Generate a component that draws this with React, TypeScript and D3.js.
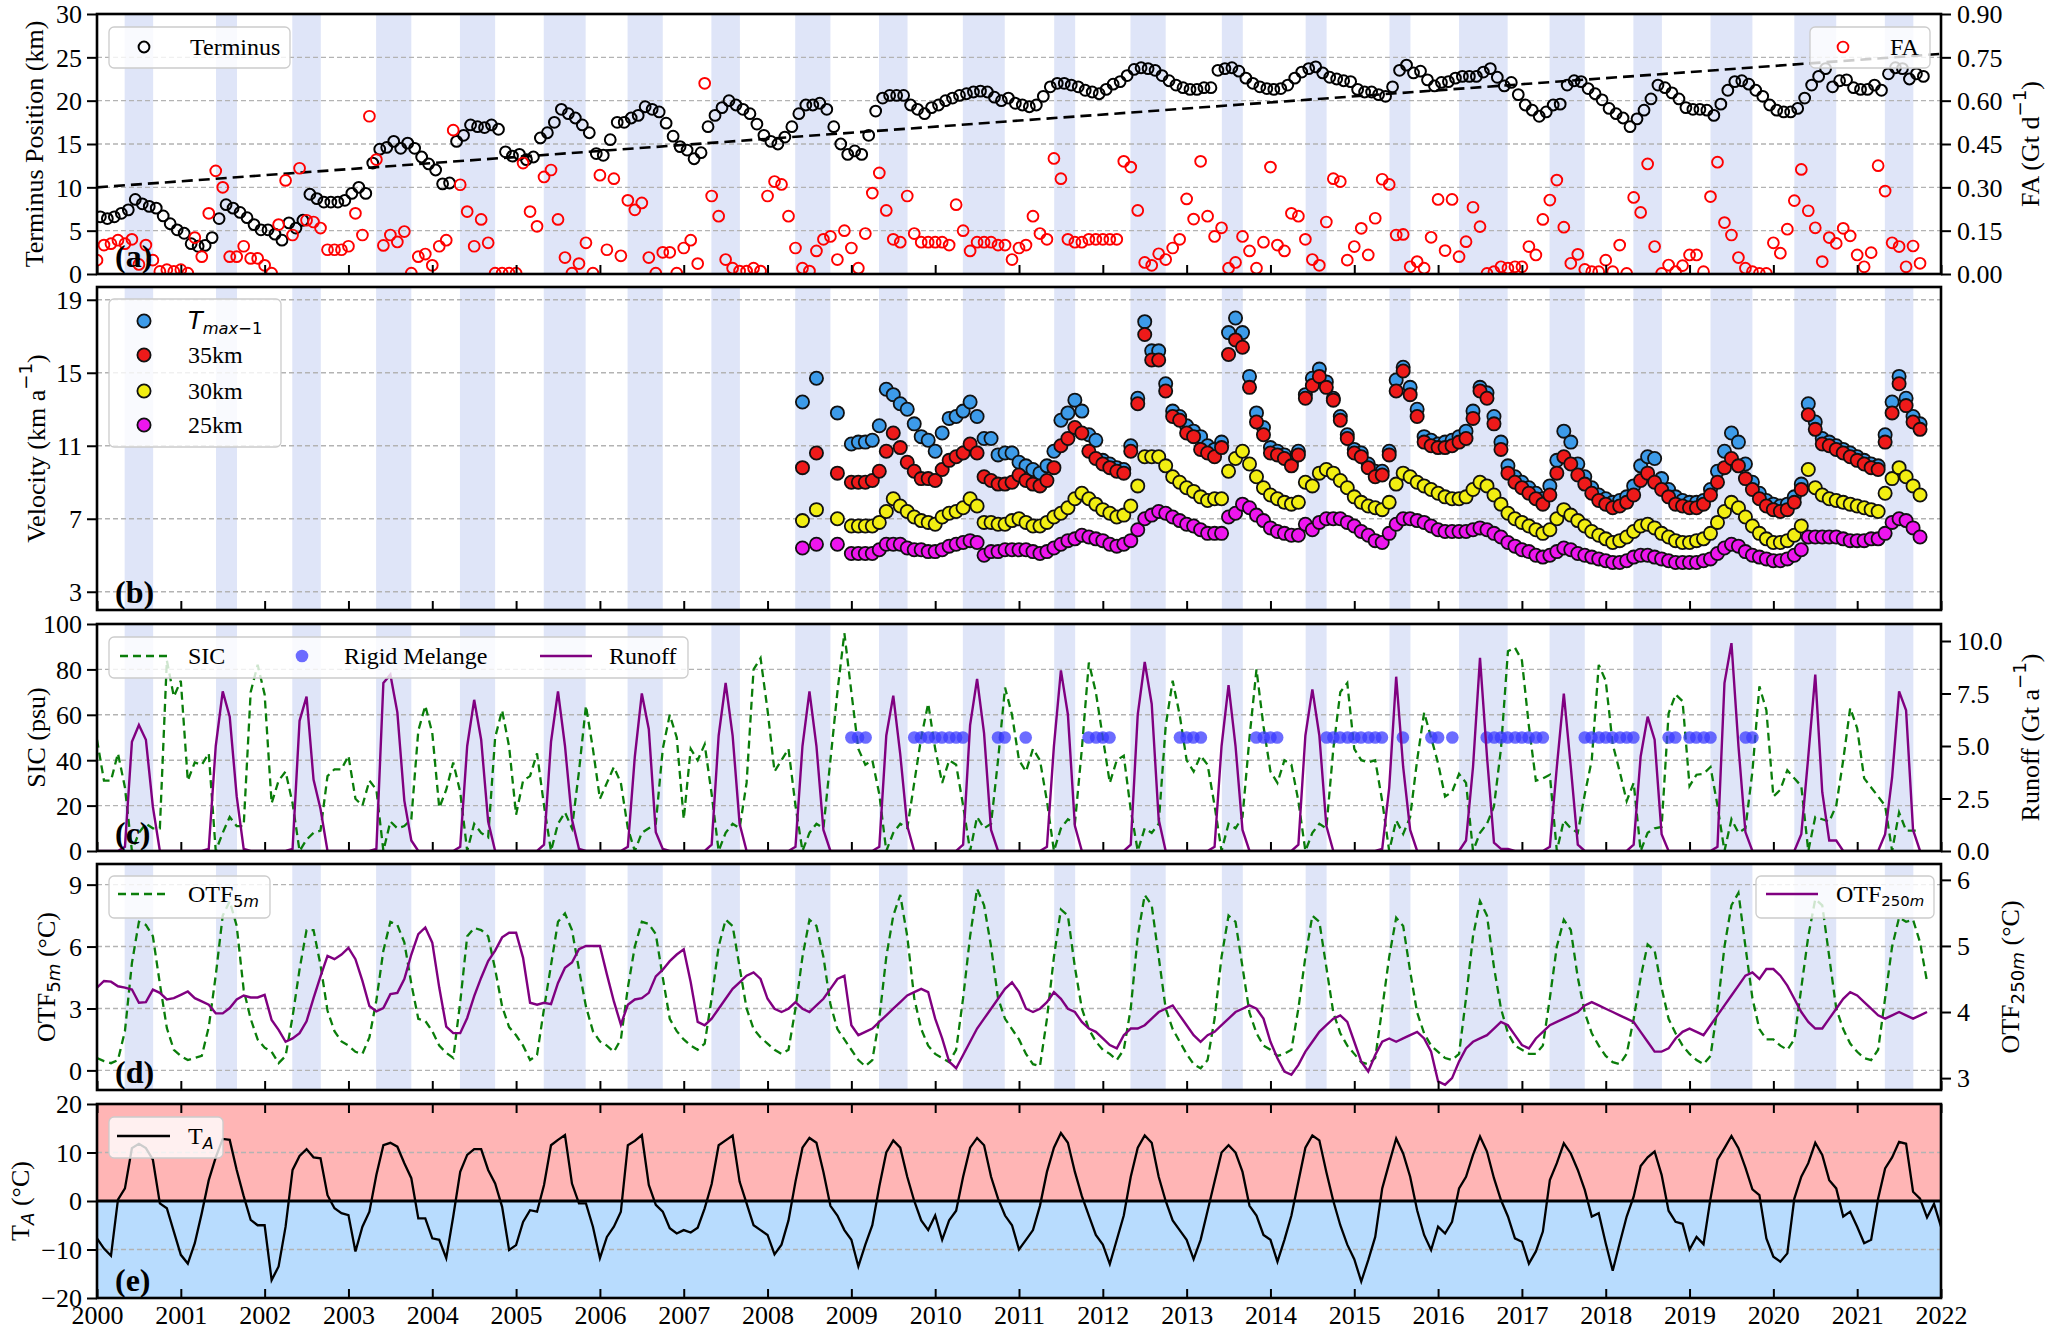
import React, { useEffect, useRef } from "react";
import * as d3 from "d3";

// ---------------- DATA ----------------
const yearTicks = [2000,2001,2002,2003,2004,2005,2006,2007,2008,2009,2010,2011,2012,2013,2014,2015,2016,2017,2018,2019,2020,2021,2022];

const summerBands: [number, number][] = [[2000.33,2000.67],[2001.42,2001.67],[2002.33,2002.67],[2003.33,2003.75],[2004.33,2004.75],[2005.33,2005.83],[2006.33,2006.75],[2007.33,2007.67],[2008.33,2008.75],[2009.33,2009.67],[2010.33,2010.83],[2011.42,2011.67],[2012.33,2012.75],[2013.42,2013.67],[2014.42,2014.67],[2015.42,2015.67],[2016.25,2016.83],[2017.33,2017.75],[2018.33,2018.67],[2019.25,2019.75],[2020.25,2020.75],[2021.33,2021.67]];

// (a) Terminus position (km), monthly from Jan 2000
const terminusKm = [
6.6,6.4,6.6,7.0,7.4,8.6,8.1,7.8,7.6,6.7,5.8,5.1,
4.7,3.5,3.2,3.3,4.2,6.4,8.0,7.6,7.1,6.5,5.7,5.1,
5.1,4.6,3.9,5.9,5.3,6.2,9.2,8.7,8.3,8.3,8.3,8.5,
9.3,10.0,9.3,12.8,14.4,14.6,15.3,14.5,15.1,14.5,13.5,12.7,
12.0,10.4,10.5,15.3,16.0,17.2,17.0,16.9,17.2,16.7,14.1,13.6,
13.8,13.2,13.5,15.7,16.3,17.5,19.0,18.5,18.0,17.2,16.3,13.9,
13.7,15.5,17.5,17.5,18.0,18.3,19.3,19.0,18.7,17.4,15.9,14.7,
14.3,13.3,14.0,17.0,18.3,19.2,20.0,19.5,19.0,18.5,17.3,16.0,
15.3,15.0,15.8,17.0,18.5,19.5,19.5,19.7,19.0,17.0,15.0,13.8,
14.2,13.8,16.0,18.8,20.3,20.6,20.6,20.6,19.5,19.0,18.5,19.2,
19.5,20.0,20.3,20.6,20.8,21.0,21.1,21.0,20.4,20.0,20.3,19.7,
19.5,19.3,19.5,20.5,21.6,22.0,22.0,21.8,21.6,21.2,21.0,20.8,
21.3,21.9,22.2,22.9,23.6,23.8,23.7,23.5,22.9,22.3,21.8,21.5,
21.3,21.3,21.5,21.5,23.5,23.7,23.8,23.4,22.6,22.0,21.6,21.4,
21.3,21.4,21.8,22.6,23.3,23.7,23.9,23.2,22.7,22.5,22.3,22.2,
21.3,21.0,21.0,20.7,20.5,21.6,23.5,24.1,23.2,23.4,22.4,21.7,
22.1,22.2,22.6,22.8,22.8,22.8,23.3,23.7,22.7,21.7,22.1,20.7,
19.5,18.9,18.2,18.7,19.5,19.6,21.8,22.3,22.2,21.4,20.8,20.1,
19.1,18.5,18.0,17.0,17.9,18.9,20.2,21.8,21.5,20.9,20.2,19.2,
19.0,19.0,18.9,18.3,19.6,21.2,22.2,22.3,21.9,21.2,20.5,19.5,
18.9,18.7,18.7,19.1,20.3,21.8,22.8,23.7,21.6,22.3,22.4,21.5,
21.3,21.3,21.8,21.2,23.1,23.8,23.7,22.5,23.1,22.8];
const terminusTrend = [10.0, 25.4]; // km at 2000 and 2022

// (a) Frontal ablation FA (Gt d-1), monthly from Jan 2000
const faGt = [
0.048,0.10,0.105,0.117,0.105,0.12,0.033,0.10,0.048,0.009,0.015,0.009,
0.015,0.003,0.126,0.06,0.21,0.357,0.30,0.06,0.06,0.096,0.054,0.054,
0.03,0.003,0.171,0.324,0.135,0.366,0.186,0.18,0.159,0.084,0.084,0.084,
0.096,0.21,0.135,0.546,0.396,0.099,0.135,0.111,0.147,0.003,0.06,0.069,
0.03,0.096,0.117,0.498,0.309,0.216,0.096,0.189,0.108,0.003,0.003,0.003,
0.003,0.384,0.216,0.165,0.336,0.36,0.189,0.057,0.003,0.036,0.108,0.003,
0.342,0.084,0.33,0.063,0.255,0.222,0.246,0.057,0.003,0.075,0.075,0.003,
0.09,0.117,0.036,0.66,0.27,0.2,0.05,0.02,0.01,0.01,0.02,0.01,
0.27,0.32,0.31,0.2,0.09,0.02,0.01,0.08,0.12,0.13,0.05,0.15,
0.09,0.02,0.14,0.28,0.35,0.22,0.12,0.11,0.27,0.14,0.11,0.11,
0.11,0.11,0.1,0.24,0.15,0.08,0.11,0.11,0.11,0.1,0.1,0.05,
0.09,0.1,0.2,0.14,0.12,0.4,0.33,0.12,0.11,0.11,0.12,0.12,
0.12,0.12,0.12,0.39,0.37,0.22,0.04,0.03,0.07,0.05,0.09,0.12,
0.26,0.19,0.39,0.2,0.13,0.16,0.02,0.04,0.13,0.08,0.02,0.11,
0.37,0.1,0.08,0.21,0.2,0.12,0.05,0.03,0.18,0.33,0.32,0.048,
0.095,0.158,0.066,0.193,0.328,0.31,0.135,0.137,0.025,0.043,0.02,0.127,
0.258,0.081,0.258,0.06,0.112,0.231,0.164,0.002,0.008,0.025,0.02,0.025,
0.025,0.095,0.066,0.189,0.256,0.325,0.162,0.037,0.068,0.016,0.008,0.008,
0.048,0.008,0.10,0.002,0.265,0.213,0.381,0.095,0.002,0.031,0.008,0.029,
0.066,0.066,0.008,0.268,0.387,0.178,0.135,0.057,0.02,0.008,0.002,0.002,
0.108,0.072,0.155,0.254,0.362,0.219,0.16,0.043,0.126,0.106,0.158,0.132,
0.066,0.025,0.074,0.375,0.287,0.108,0.095,0.025,0.097,0.037];

// (b) Velocity (km a-1), monthly from May 2008 (null = no data)
const velTmax = [
null,13.4,null,14.7,null,null,12.8,null,
11.1,11.2,11.2,11.3,12.1,14.1,13.8,13.3,13.0,12.2,11.5,11.3,
10.7,11.7,12.5,12.6,12.9,13.4,12.6,11.4,11.4,10.5,10.6,10.6,
10.1,9.9,9.7,9.5,9.9,10.7,12.4,12.8,13.5,12.9,11.6,11.3,
10.2,10.0,9.8,9.7,11.0,13.6,17.8,16.2,16.2,14.4,12.9,12.6,
12.1,11.8,11.5,11.0,10.8,11.2,17.2,18.0,17.2,14.8,12.8,12.0,
10.9,10.7,10.5,10.1,10.7,13.8,14.7,15.2,14.5,13.6,12.6,11.6,
10.8,10.6,10.0,9.6,9.6,10.7,14.6,15.3,14.2,13.0,11.5,11.3,
11.1,11.2,11.3,11.5,11.8,12.9,14.2,13.9,12.6,11.2,9.9,9.3,
9.0,8.7,8.4,8.1,8.8,10.2,11.8,11.2,10.0,9.3,8.7,8.3,
8.1,7.9,8.0,8.2,8.8,9.9,10.4,10.3,9.2,8.6,8.2,8.0,
7.9,7.9,8.0,8.6,9.6,10.7,11.7,11.2,10.0,9.0,8.4,8.0,
7.8,7.7,7.8,8.2,8.9,13.3,12.3,11.4,11.2,11.0,10.8,10.6,
10.4,10.2,10.0,9.9,11.6,13.4,14.8,13.6,12.6,12.2];
const vel35 = [
null,9.8,null,10.6,null,null,9.5,null,
9.0,9.0,9.0,9.1,9.6,10.7,11.7,10.9,10.1,9.6,9.2,9.2,
9.1,9.7,10.2,10.4,10.6,11.1,10.6,9.3,9.1,8.9,8.9,9.0,
9.4,9.1,8.9,8.8,9.1,9.8,11.0,11.4,12.0,11.7,10.7,10.3,
10.0,9.8,9.6,9.5,10.7,13.3,17.1,15.7,15.7,14.0,12.6,12.4,
11.7,11.5,10.8,10.6,10.4,10.9,16.0,16.8,16.4,14.2,12.3,11.6,
10.6,10.5,10.3,9.9,10.5,13.6,14.3,14.8,14.2,13.5,12.4,11.4,
10.6,10.4,9.8,9.3,9.4,10.5,14.0,15.1,13.8,12.6,11.2,11.0,
10.9,10.9,11.0,11.2,11.4,12.5,14.0,13.6,12.2,10.8,9.5,9.0,
8.7,8.4,8.1,7.8,8.3,9.5,10.4,10.0,9.4,8.9,8.4,8.0,
7.8,7.6,7.7,7.9,8.3,9.1,9.5,9.0,8.6,8.2,7.8,7.7,
7.6,7.6,7.8,8.3,9.0,9.8,10.3,9.9,9.2,8.6,8.1,7.7,
7.5,7.4,7.5,7.9,8.6,12.7,11.9,11.1,11.0,10.8,10.6,10.4,
10.2,10.0,9.8,9.7,11.2,12.8,14.4,13.2,12.3,11.9];
const vel30 = [
null,6.9,null,7.5,null,null,7.0,null,
6.6,6.6,6.6,6.6,6.8,7.4,8.1,7.7,7.4,7.1,6.9,6.8,
6.7,7.1,7.3,7.4,7.6,8.1,7.7,6.8,6.8,6.7,6.7,6.9,
7.0,6.8,6.6,6.6,6.8,7.1,7.3,7.6,8.1,8.4,8.1,7.8,
7.5,7.3,7.1,7.2,7.7,8.8,10.4,10.4,10.4,9.9,9.3,9.0,
8.7,8.5,8.2,8.0,8.1,8.1,9.6,10.3,10.7,10.0,9.3,8.7,
8.3,8.1,7.9,7.8,7.9,9.0,8.8,9.5,9.7,9.5,9.1,8.7,
8.2,7.9,7.7,7.6,7.5,7.9,8.9,9.5,9.3,9.0,8.8,8.6,
8.4,8.2,8.1,8.1,8.2,8.6,9.0,8.8,8.3,7.8,7.3,7.0,
6.8,6.6,6.4,6.2,6.4,7.0,7.5,7.2,6.9,6.6,6.3,6.1,
5.9,5.7,5.8,6.0,6.3,6.6,6.7,6.5,6.2,6.0,5.8,5.7,
5.7,5.8,5.9,6.2,6.8,7.4,7.9,7.6,7.1,6.6,6.2,5.9,
5.7,5.7,5.8,6.1,6.6,9.7,8.7,8.3,8.1,8.0,7.9,7.8,
7.7,7.6,7.5,7.4,8.4,9.2,9.8,9.3,8.8,8.3];
const vel25 = [
null,5.4,null,5.6,null,null,5.6,null,
5.1,5.1,5.1,5.1,5.3,5.6,5.6,5.6,5.4,5.3,5.3,5.2,
5.2,5.3,5.5,5.6,5.7,5.8,5.7,5.0,5.2,5.2,5.3,5.3,
5.3,5.3,5.2,5.1,5.2,5.4,5.6,5.8,5.9,6.1,6.0,5.9,
5.8,5.6,5.5,5.6,5.8,6.4,7.0,7.2,7.4,7.3,7.1,6.9,
6.7,6.6,6.4,6.2,6.2,6.2,7.1,7.3,7.8,7.6,7.2,6.9,
6.5,6.3,6.2,6.1,6.1,6.7,6.4,6.8,7.0,7.0,7.0,6.8,
6.6,6.3,6.1,5.8,5.7,6.2,6.7,7.0,7.0,6.9,6.8,6.6,
6.4,6.3,6.3,6.3,6.3,6.4,6.5,6.4,6.2,6.0,5.7,5.5,
5.3,5.2,5.0,4.9,5.0,5.2,5.4,5.3,5.1,5.0,4.9,4.8,
4.7,4.6,4.6,4.7,4.9,5.0,5.0,4.9,4.8,4.7,4.6,4.6,
4.6,4.6,4.7,4.8,5.1,5.4,5.6,5.5,5.2,5.0,4.9,4.8,
4.7,4.7,4.8,5.0,5.3,6.0,6.0,6.0,6.0,6.0,5.9,5.8,
5.8,5.8,5.9,5.9,6.2,6.8,7.0,6.9,6.5,6.0];

// (c) Sea-ice concentration, monthly from Jan 2000
const sicPct = [
49,31,31,43,28,0,8,12,10,10,84,68,
75,31,39,38,43,0,8,15,11,11,70,82,
69,21,31,35,21,0,5,8,9,33,36,36,
42,23,20,31,27,0,13,10,11,14,53,64,
52,19,27,39,26,0,12,8,6,50,62,46,
16,31,33,43,20,0,12,17,10,35,64,45,
23,30,37,30,10,0,8,10,12,45,60,50,
14,45,40,47,25,0,8,12,10,30,80,85,
62,35,40,45,20,0,8,12,10,40,70,96,
70,45,38,40,25,0,8,12,10,30,50,65,
45,30,40,38,20,0,15,10,12,40,72,60,
40,35,45,40,22,0,10,14,12,45,83,70,
50,30,40,42,18,0,10,8,12,55,75,60,
40,35,42,38,20,0,12,10,15,50,80,55,
35,30,40,38,22,0,8,12,10,45,70,74,
45,40,39,40,22,0,13.5,7.5,15,40,61,50,
38.6,24,26,34,30,0,8,12,19.6,45,88,89.6,
84,55,31,32,33.6,0,13.5,10,8,25,40,82,
75,47,35,22,30,0,8,10,10.6,60.6,69,66,
28.6,33.6,34,37,20,0,14,8,10,35,72.5,62,
24,27,35.6,32,28.6,0,15,14,13,20,40,63,
54,32,28,24,20,0,17,9,9,9];

// (c) Runoff (Gt a-1), monthly from Jan 2000
const runoffGt = [
0,0,0,0,0.2,5.2,6.0,5.3,2.1,0,0,0,
0,0,0,0,0.1,5.0,7.6,6.4,2.6,0.1,0,0,
0,0,0,0,0.1,6.2,7.35,3.4,2.0,0,0,0,
0,0,0,0,0.1,8.0,8.4,6.6,2.4,0.5,0,0,
0,0,0,0,0.2,5.0,7.2,5.3,1.4,0,0,0,
0,0,0,0,0.3,5.2,7.6,5.0,1.5,0.1,0,0,
0,0,0,0,0.2,4.5,7.5,5.8,0.9,0.1,0,0,
0,0,0,0,0.3,5.5,8.0,5.5,1.3,0,0,0,
0,0,0,0,0.2,5.0,7.6,5.0,1.0,0,0,0,
0,0,0,0,0.2,5.5,7.4,4.6,1.2,0,0,0,
0,0,0,0,0.3,6.0,8.2,5.6,1.0,0,0,0,
0,0,0,0,0.2,5.0,8.6,6.5,1.2,0,0,0,
0,0,0,0,0.3,6.5,9.0,7.0,1.5,0,0,0,
0,0,0,0,0.2,5.0,7.9,5.0,1.0,0,0,0,
0,0,0,0,0.3,5.5,7.7,5.5,1.2,0,0,0,
0,0,0,0,0.1,3.0,8.3,4.0,1.0,0,0,0,
0,0,0,0,0.5,4.0,9.2,4.5,0.4,0.1,0.1,0,
0,0,0,0,0.2,4.0,7.5,4.0,0.3,0,0,0,
0,0,0,0,0.3,4.5,6.4,5.3,0.8,0,0,0,
0,0,0,0,0.2,8.0,9.9,5.0,0.9,0,0,0,
0,0,0,0,0.8,4.5,8.4,2.8,0.5,0.5,0,0,
0,0,0,0,0.8,3.5,7.6,6.7,1.0,0];

// (c) Rigid melange dates (decimal year)
const melangeT = [2009.0,2009.08,2009.17,2009.75,2009.83,2009.92,2010.0,2010.08,2010.17,2010.25,2010.33,2010.75,2010.83,2011.08,
2011.83,2011.92,2012.0,2012.08,2012.92,2013.0,2013.08,2013.17,2013.83,2013.92,2014.0,2014.08,
2014.67,2014.75,2014.83,2014.92,2015.0,2015.08,2015.17,2015.25,2015.33,2015.58,2015.92,2016.0,2016.17,
2016.58,2016.67,2016.75,2016.83,2016.92,2017.0,2017.08,2017.17,2017.25,
2017.75,2017.83,2017.92,2018.0,2018.08,2018.17,2018.25,2018.33,2018.75,2018.83,
2019.0,2019.08,2019.17,2019.25,2019.67,2019.75];
const melangeLevel = 50;

// (d) Ocean thermal forcing at 5 m (°C), monthly from Jan 2000
const otf5m = [
0.6,0.45,0.35,0.5,1.9,5.2,7.2,7.05,6.5,4.2,2.05,1.0,
0.7,0.5,0.6,0.7,2.1,4.6,7.5,8.2,7.0,3.9,2.5,1.5,
1.1,0.9,0.35,0.7,2.6,4.9,6.8,6.8,5.1,2.9,1.9,1.4,
1.2,0.9,0.8,1.6,3.4,5.8,7.2,7.05,6.2,4.2,2.5,2.4,
1.9,1.2,0.85,0.6,3.3,6.5,6.9,6.8,6.5,4.9,3.1,2.1,
1.7,1.2,0.5,0.75,3.0,5.1,7.2,7.6,6.8,4.9,3.1,1.9,
1.4,1.2,0.9,1.5,4.0,6.0,7.2,7.1,6.6,4.5,2.5,1.9,
1.5,1.2,1.0,1.3,3.5,6.0,7.3,7.0,5.0,3.0,2.0,1.6,
1.3,1.0,0.8,1.0,3.0,5.5,7.3,7.0,5.5,3.2,2.0,1.5,
1.0,0.5,0.2,0.5,2.5,5.5,7.5,8.5,6.5,3.5,2.0,1.2,
0.8,0.6,0.4,1.0,3.5,6.5,8.8,8.0,6.0,3.5,2.5,2.0,
1.5,0.8,0.3,0.2,2.5,5.5,7.8,7.5,5.0,3.0,2.0,1.4,
1.0,0.8,0.5,1.0,3.0,6.5,8.5,8.0,5.5,3.0,2.0,1.4,
0.8,0.3,0.1,0.5,2.5,5.5,7.5,7.2,5.0,2.8,1.8,1.2,
1.0,0.7,0.8,1.0,3.0,5.5,7.5,7.2,5.0,2.8,1.8,1.2,
0.8,0.4,0.3,0.6,3.0,5.5,7.4,7.0,4.8,2.8,1.8,1.2,
0.9,0.6,0.5,0.8,3.5,6.5,8.2,7.5,5.0,3.0,1.8,1.2,
1.0,0.8,0.8,1.2,3.5,6.0,7.3,6.8,4.5,2.8,1.8,1.2,
0.7,0.4,0.3,0.8,2.5,4.5,6.1,5.8,4.0,2.5,1.8,1.2,
0.8,0.5,0.3,0.7,3.0,6.0,8.0,8.6,6.0,3.5,2.0,1.5,
1.5,1.2,1.0,1.5,4.0,6.5,8.3,8.0,5.5,3.0,2.0,1.3,
0.9,0.6,0.5,1.0,3.5,6.0,7.4,7.2,7.3,6.2,4.3];

// (d) Ocean thermal forcing at 250 m (°C), monthly from Jan 2000
const otf250m = [
4.37,4.47,4.46,4.39,4.37,4.34,4.14,4.15,4.34,4.29,4.19,4.21,
4.26,4.31,4.21,4.16,4.11,3.98,3.98,4.06,4.19,4.25,4.22,4.22,
4.26,3.88,3.73,3.55,3.60,3.68,3.86,4.21,4.54,4.85,4.80,4.87,
4.97,4.80,4.47,4.09,4.01,4.06,4.27,4.29,4.50,4.87,5.18,5.28,
5.05,4.37,3.78,3.68,3.68,3.91,4.24,4.52,4.77,4.93,5.13,5.20,
5.20,4.82,4.14,4.11,4.14,4.12,4.44,4.67,4.75,4.95,5.00,5.00,
5.00,4.57,4.16,3.81,4.11,4.19,4.21,4.29,4.54,4.64,4.77,4.87,
4.95,4.45,3.85,3.80,3.90,4.05,4.20,4.35,4.45,4.55,4.60,4.50,
4.20,4.05,4.00,4.05,4.15,4.05,4.00,4.10,4.20,4.35,4.50,4.55,
3.80,3.65,3.70,3.75,3.85,3.95,4.05,4.15,4.25,4.30,4.35,4.30,
3.90,3.60,3.25,3.15,3.35,3.55,3.75,3.90,4.05,4.20,4.35,4.45,
4.30,4.05,4.00,4.05,4.15,4.30,4.20,4.05,4.00,3.85,3.75,3.70,
3.60,3.50,3.45,3.65,3.75,3.75,3.80,3.90,4.00,4.05,4.10,3.95,
3.80,3.65,3.55,3.65,3.70,3.80,3.90,4.00,4.05,4.10,4.05,3.90,
3.55,3.30,3.10,3.05,3.20,3.40,3.55,3.70,3.80,3.90,3.95,3.85,
3.55,3.25,3.10,3.35,3.55,3.60,3.55,3.60,3.65,3.70,3.60,3.40,
2.95,2.90,3.00,3.25,3.45,3.55,3.60,3.65,3.75,3.85,3.80,3.65,
3.50,3.45,3.60,3.70,3.80,3.85,3.90,3.95,4.00,4.10,4.15,4.10,
4.05,4.00,3.95,3.90,3.85,3.70,3.55,3.40,3.40,3.45,3.60,3.70,
3.75,3.70,3.65,3.80,3.95,4.10,4.25,4.40,4.55,4.60,4.50,4.65,
4.65,4.55,4.40,4.20,4.00,3.85,3.75,3.75,3.90,4.05,4.20,4.30,
4.25,4.15,4.05,3.95,3.90,3.95,4.00,3.95,3.90,3.95,4.00];

// (e) Air temperature T_A (°C), monthly from Jan 2000
const taC = [
-7.7,-9.8,-11.3,0.3,2.6,10.9,11.8,10.9,8.5,-0.5,-1.5,-6.3,
-11.1,-12.9,-8.7,-2.5,4.3,9.0,12.8,12.6,6.4,1.0,-3.9,-5.0,
-5.0,-16.3,-13.5,-5.3,6.4,9.3,10.7,9.0,8.8,1.2,-1.5,-2.5,
-2.9,-10.4,-5.3,-2.2,5.4,11.5,12.0,11.2,7.8,4.7,-3.6,-3.6,
-7.7,-8.0,-11.8,-3.2,6.0,9.5,10.7,10.7,6.4,3.6,-1.2,-10.1,
-9.1,-4.3,-1.9,-2.2,3.3,11.5,12.6,13.6,3.6,-0.5,-0.5,-5.3,
-11.8,-7.4,-5.3,-2.2,11.5,12.4,13.6,3.3,-0.8,-2.2,-5.6,-6.7,
-6.0,-6.5,-5.5,-1.5,3.5,11.5,12.5,13.5,4.0,-0.5,-5.0,-6.0,
-7.0,-11.0,-9.0,-4.0,4.0,11.0,13.0,12.0,6.0,-1.0,-3.0,-6.0,
-8.0,-13.5,-9.0,-5.0,3.0,10.0,12.5,11.0,5.0,0.0,-4.0,-6.0,
-3.0,-8.0,-4.0,-2.0,5.0,11.0,13.0,11.5,5.0,0.5,-3.0,-5.0,
-10.0,-8.0,-6.0,-1.0,6.0,11.0,14.0,12.0,6.0,1.0,-3.0,-7.0,
-9.0,-13.0,-8.0,-3.0,5.0,11.0,13.5,12.0,5.0,0.0,-4.0,-6.0,
-8.0,-12.0,-8.0,-2.0,4.0,10.0,11.5,10.0,6.0,-1.0,-3.0,-7.0,
-8.0,-12.5,-8.0,-3.0,4.0,11.0,13.5,12.5,6.0,0.0,-5.0,-9.0,
-12.0,-16.6,-12.2,-7.4,2.6,7.8,12.9,9.8,5.0,-1.9,-7.0,-10.1,
-5.3,-6.7,-4.3,2.6,5.0,9.5,13.3,10.2,4.7,0.2,-3.2,-7.7,
-8.4,-12.9,-10.4,-6.3,4.3,7.8,11.9,9.8,6.4,2.3,-3.2,-2.5,
-8.7,-14.4,-8.7,-3.2,0.9,7.2,9.0,10.2,5.4,-2.0,-4.3,-4.7,
-10.0,-7.4,-8.9,0.5,8.5,10.9,13.4,10.9,6.9,2.4,1.2,-7.7,
-11.5,-12.5,-10.8,0.5,5.0,7.8,12.0,9.5,4.3,2.6,-3.2,-2.2,
-5.3,-8.7,-8.0,0.5,6.7,9.0,12.2,11.8,1.9,0.5,-3.4,-0.6,
-5.3];

// ---------------- LAYOUT / STYLE ----------------
const W = 2050, H = 1333;
const L = 97, R = 1941;
const SERIF = "'Liberation Serif','Times New Roman',serif";
const SANS = "'DejaVu Sans',sans-serif";
const FS = 26;
const BAND = "#dfe5f8";
const GRID = "#b3b3b3";

type Part = { t: string; s?: "sub" | "sup"; i?: boolean; f?: string };

function rich(text: any, parts: Part[], size: number, ratio = 0.7) {
  let shift = 0;
  parts.forEach((p) => {
    const target = p.s === "sup" ? -0.42 * size : p.s === "sub" ? 0.28 * size : 0;
    const ts = text.append("tspan").text(p.t).attr("dy", target - shift);
    shift = target;
    ts.attr("font-size", p.s ? size * ratio : size);
    if (p.i) ts.attr("font-style", "italic");
    if (p.f) ts.attr("font-family", p.f);
  });
}

function draw(svg: any) {
  const X = d3.scaleLinear().domain([2000, 2022]).range([L, R]);
  const mT = (start: number, i: number) => start + i / 12;
  const root = svg.append("g").attr("font-family", SERIF);
  const defs = svg.append("defs");

  function panel(id: string, top: number, bottom: number, bands: boolean) {
    const g = root.append("g");
    defs.append("clipPath").attr("id", "clip-" + id)
      .append("rect").attr("x", L).attr("y", top).attr("width", R - L).attr("height", bottom - top);
    const bg = g.append("g");
    if (bands) {
      bg.selectAll("rect").data(summerBands).enter().append("rect")
        .attr("x", (d: any) => X(d[0])).attr("width", (d: any) => X(d[1]) - X(d[0]))
        .attr("y", top).attr("height", bottom - top).attr("fill", BAND);
    }
    const plot = g.append("g").attr("clip-path", `url(#clip-${id})`);
    return { g, bg, plot };
  }

  function grid(g: any, y: any, ticks: number[]) {
    g.selectAll(null).data(ticks).enter().append("line")
      .attr("x1", L).attr("x2", R).attr("y1", (d: number) => y(d)).attr("y2", (d: number) => y(d))
      .attr("stroke", GRID).attr("stroke-width", 1.4).attr("stroke-dasharray", "5,3");
  }

  function styleAxis(ax: any) {
    ax.select(".domain").remove();
    ax.selectAll("line").attr("stroke", "#000").attr("stroke-width", 2);
    ax.selectAll("text").attr("font-family", SERIF).attr("font-size", FS).attr("fill", "#000");
    ax.attr("font-size", FS).attr("font-family", SERIF);
  }

  function leftAxis(g: any, y: any, ticks: number[], fmt: (d: number) => string) {
    const ax = g.append("g").attr("transform", `translate(${L},0)`)
      .call(d3.axisLeft(y).tickValues(ticks).tickFormat(fmt as any).tickSizeInner(10).tickSizeOuter(0).tickPadding(5));
    styleAxis(ax);
    ax.selectAll("text").attr("dy", "0.34em");
  }
  function rightAxis(g: any, y: any, ticks: number[], fmt: (d: number) => string) {
    const ax = g.append("g").attr("transform", `translate(${R},0)`)
      .call(d3.axisRight(y).tickValues(ticks).tickFormat(fmt as any).tickSizeInner(10).tickSizeOuter(0).tickPadding(6));
    styleAxis(ax);
    ax.selectAll("text").attr("dy", "0.34em");
  }
  function bottomTicks(g: any, bottom: number, labels: boolean) {
    const ax = g.append("g").attr("transform", `translate(0,${bottom})`)
      .call(d3.axisBottom(X).tickValues(yearTicks).tickFormat((labels ? d3.format("d") : () => "") as any)
        .tickSizeInner(-9).tickSizeOuter(0).tickPadding(8));
    styleAxis(ax);
  }
  function topTicks(g: any, top: number) {
    const ax = g.append("g").attr("transform", `translate(0,${top})`)
      .call(d3.axisTop(X).tickValues(yearTicks).tickFormat(() => "").tickSizeInner(-9).tickSizeOuter(0));
    styleAxis(ax);
  }
  function frame(g: any, top: number, bottom: number) {
    g.append("rect").attr("x", L).attr("y", top).attr("width", R - L).attr("height", bottom - top)
      .attr("fill", "none").attr("stroke", "#000").attr("stroke-width", 2.6);
  }
  function yTitle(g: any, x: number, y: number, parts: Part[]) {
    const t = g.append("text").attr("transform", `translate(${x},${y}) rotate(-90)`)
      .attr("text-anchor", "middle").attr("dominant-baseline", "central")
      .attr("font-size", FS).attr("font-family", SERIF);
    rich(t, parts, FS);
  }
  function tag(g: any, bottom: number, s: string) {
    g.append("text").attr("x", 115).attr("y", bottom - 7).attr("font-size", 32)
      .attr("font-weight", "bold").attr("font-family", SERIF).text(s);
  }
  function legendBox(g: any, x: number, y: number, w: number, h: number) {
    g.append("rect").attr("x", x).attr("y", y).attr("width", w).attr("height", h).attr("rx", 5)
      .attr("fill", "#fff").attr("fill-opacity", 0.8).attr("stroke", "#cccccc").attr("stroke-width", 1.3);
  }
  function legendText(g: any, x: number, y: number, parts: Part[], ratio = 0.7) {
    const t = g.append("text").attr("x", x).attr("y", y).attr("dominant-baseline", "central")
      .attr("font-size", 24).attr("font-family", SERIF);
    rich(t, parts, 24, ratio);
  }

  // ---------- (a) ----------
  {
    const top = 14, bottom = 274;
    const y = d3.scaleLinear().domain([0, 30]).range([bottom, top]);
    const y2 = d3.scaleLinear().domain([0, 0.9]).range([bottom, top]);
    const { g, bg, plot } = panel("a", top, bottom, true);
    grid(bg, y, [5, 10, 15, 20, 25]);
    plot.append("line").attr("x1", X(2000)).attr("x2", X(2022))
      .attr("y1", y(terminusTrend[0])).attr("y2", y(terminusTrend[1]))
      .attr("stroke", "#000").attr("stroke-width", 2.6).attr("stroke-dasharray", "11,6");
    plot.selectAll(null).data(terminusKm).enter().append("circle")
      .attr("cx", (d: number, i: number) => X(mT(2000.04, i))).attr("cy", (d: number) => y(d))
      .attr("r", 5.4).attr("fill", "none").attr("stroke", "#000").attr("stroke-width", 2);
    legendBox(g, 109, 27, 181, 41);
    g.append("circle").attr("cx", 144).attr("cy", 47).attr("r", 5.4).attr("fill", "none").attr("stroke", "#000").attr("stroke-width", 2);
    legendText(g, 190, 47, [{ t: "Terminus" }]);
    const fa = g.append("g").attr("clip-path", "url(#clip-a)");
    fa.selectAll(null).data(faGt).enter().append("circle")
      .attr("cx", (d: number, i: number) => X(mT(2000, i))).attr("cy", (d: number) => y2(d))
      .attr("r", 5.4).attr("fill", "none").attr("stroke", "#ff0000").attr("stroke-width", 1.9);
    legendBox(g, 1810, 27, 120, 41);
    g.append("circle").attr("cx", 1843).attr("cy", 47).attr("r", 5.4).attr("fill", "none").attr("stroke", "#ff0000").attr("stroke-width", 1.9);
    legendText(g, 1890, 47, [{ t: "FA" }]);
    leftAxis(g, y, [0, 5, 10, 15, 20, 25, 30], d3.format("d"));
    rightAxis(g, y2, [0, 0.15, 0.3, 0.45, 0.6, 0.75, 0.9], d3.format(".2f"));
    bottomTicks(g, bottom, false);
    frame(g, top, bottom);
    tag(g, bottom, "(a)");
    yTitle(g, 34, (top + bottom) / 2, [{ t: "Terminus Position (km)" }]);
    yTitle(g, 2030, (top + bottom) / 2, [{ t: "FA (Gt d" }, { t: "\u22121", s: "sup", f: SANS }, { t: ")" }]);
  }

  // ---------- (b) ----------
  {
    const top = 287, bottom = 610;
    const y = d3.scaleLinear().domain([2.0, 19.7]).range([bottom, top]);
    const { g, bg, plot } = panel("b", top, bottom, true);
    grid(bg, y, [3, 7, 11, 15, 19]);
    const series: [(number | null)[], string][] = [[velTmax, "#3d9be9"], [vel35, "#ee1a1a"], [vel30, "#f2ee12"], [vel25, "#ee16ee"]];
    const start = 2008 + 4 / 12;
    series.forEach(([vals, col]) => {
      const pts = vals.map((v, i) => ({ t: mT(start, i), v })).filter((p) => p.v != null);
      plot.selectAll(null).data(pts).enter().append("circle")
        .attr("cx", (d: any) => X(d.t)).attr("cy", (d: any) => y(d.v))
        .attr("r", 6.6).attr("fill", col).attr("stroke", "#111").attr("stroke-width", 1.8);
    });
    legendBox(g, 109, 299, 172, 148);
    const ly = [321, 355, 391, 425];
    series.forEach(([, col], k) => {
      g.append("circle").attr("cx", 144).attr("cy", ly[k]).attr("r", 6.6).attr("fill", col).attr("stroke", "#111").attr("stroke-width", 1.8);
    });
    legendText(g, 188, ly[0], [{ t: "T", i: true, f: SANS }, { t: "max", s: "sub", i: true, f: SANS }, { t: "\u22121", s: "sub", f: SANS }], 0.68);
    legendText(g, 188, ly[1], [{ t: "35km" }]);
    legendText(g, 188, ly[2], [{ t: "30km" }]);
    legendText(g, 188, ly[3], [{ t: "25km" }]);
    leftAxis(g, y, [3, 7, 11, 15, 19], d3.format("d"));
    bottomTicks(g, bottom, false);
    frame(g, top, bottom);
    tag(g, bottom, "(b)");
    yTitle(g, 36, (top + bottom) / 2, [{ t: "Velocity (km a" }, { t: "\u22121", s: "sup", f: SANS }, { t: ")" }]);
  }

  // ---------- (c) ----------
  {
    const top = 624, bottom = 851;
    const y = d3.scaleLinear().domain([0, 100]).range([bottom, top]);
    const y2 = d3.scaleLinear().domain([0, 10.81]).range([bottom, top]);
    const { g, bg, plot } = panel("c", top, bottom, true);
    grid(bg, y, [20, 40, 60, 80]);
    const sicLine = d3.line<number>().x((d, i) => X(mT(2000, i))).y((d) => y(d));
    plot.append("path").attr("d", sicLine(sicPct)).attr("fill", "none")
      .attr("stroke", "#0a7d0a").attr("stroke-width", 2.3).attr("stroke-dasharray", "8,5");
    plot.selectAll(null).data(melangeT).enter().append("circle")
      .attr("cx", (d: number) => X(d)).attr("cy", y(melangeLevel)).attr("r", 6.3)
      .attr("fill", "#3b3bff").attr("fill-opacity", 0.75);
    const roLine = d3.line<number>().x((d, i) => X(mT(2000, i))).y((d) => y2(d));
    plot.append("path").attr("d", roLine(runoffGt)).attr("fill", "none")
      .attr("stroke", "#800080").attr("stroke-width", 2.4);
    legendBox(g, 109, 637, 579, 41);
    g.append("line").attr("x1", 120).attr("x2", 169).attr("y1", 656).attr("y2", 656)
      .attr("stroke", "#0a7d0a").attr("stroke-width", 2.3).attr("stroke-dasharray", "8,5");
    legendText(g, 188, 656, [{ t: "SIC" }]);
    g.append("circle").attr("cx", 302).attr("cy", 656).attr("r", 6.3).attr("fill", "#3b3bff").attr("fill-opacity", 0.75);
    legendText(g, 344, 656, [{ t: "Rigid Melange" }]);
    g.append("line").attr("x1", 540).attr("x2", 592).attr("y1", 656).attr("y2", 656)
      .attr("stroke", "#800080").attr("stroke-width", 2.4);
    legendText(g, 609, 656, [{ t: "Runoff" }]);
    leftAxis(g, y, [0, 20, 40, 60, 80, 100], d3.format("d"));
    rightAxis(g, y2, [0, 2.5, 5, 7.5, 10], d3.format(".1f"));
    bottomTicks(g, bottom, false);
    frame(g, top, bottom);
    tag(g, bottom, "(c)");
    yTitle(g, 36, (top + bottom) / 2, [{ t: "SIC (psu)" }]);
    yTitle(g, 2030, (top + bottom) / 2, [{ t: "Runoff (Gt a" }, { t: "\u22121", s: "sup", f: SANS }, { t: ")" }]);
  }

  // ---------- (d) ----------
  {
    const top = 864, bottom = 1090;
    const y = d3.scaleLinear().domain([-0.95, 10.0]).range([bottom, top]);
    const y2 = d3.scaleLinear().domain([2.82, 6.24]).range([bottom, top]);
    const { g, bg, plot } = panel("d", top, bottom, true);
    grid(bg, y, [0, 3, 6, 9]);
    const l1 = d3.line<number>().x((d, i) => X(mT(2000, i))).y((d) => y(d));
    plot.append("path").attr("d", l1(otf5m)).attr("fill", "none")
      .attr("stroke", "#0a7d0a").attr("stroke-width", 2.3).attr("stroke-dasharray", "8,5");
    const l2 = d3.line<number>().x((d, i) => X(mT(2000, i))).y((d) => y2(d));
    plot.append("path").attr("d", l2(otf250m)).attr("fill", "none")
      .attr("stroke", "#800080").attr("stroke-width", 2.4);
    legendBox(g, 109, 876, 161, 42);
    g.append("line").attr("x1", 118).attr("x2", 170).attr("y1", 894).attr("y2", 894)
      .attr("stroke", "#0a7d0a").attr("stroke-width", 2.3).attr("stroke-dasharray", "8,5");
    legendText(g, 188, 894, [{ t: "OTF" }, { t: "5", s: "sub", f: SANS }, { t: "m", s: "sub", i: true, f: SANS }], 0.66);
    legendBox(g, 1756, 876, 178, 42);
    g.append("line").attr("x1", 1766).attr("x2", 1818).attr("y1", 894).attr("y2", 894)
      .attr("stroke", "#800080").attr("stroke-width", 2.4);
    legendText(g, 1836, 894, [{ t: "OTF" }, { t: "250", s: "sub", f: SANS }, { t: "m", s: "sub", i: true, f: SANS }], 0.62);
    leftAxis(g, y, [0, 3, 6, 9], d3.format("d"));
    rightAxis(g, y2, [3, 4, 5, 6], d3.format("d"));
    bottomTicks(g, bottom, false);
    frame(g, top, bottom);
    tag(g, bottom, "(d)");
    yTitle(g, 46, (top + bottom) / 2, [{ t: "OTF" }, { t: "5", s: "sub", f: SANS }, { t: "m", s: "sub", i: true, f: SANS }, { t: " (\u00B0C)" }]);
    yTitle(g, 2010, (top + bottom) / 2, [{ t: "OTF" }, { t: "250", s: "sub", f: SANS }, { t: "m", s: "sub", i: true, f: SANS }, { t: " (\u00B0C)" }]);
  }

  // ---------- (e) ----------
  {
    const top = 1104, bottom = 1298;
    const y = d3.scaleLinear().domain([-20, 20]).range([bottom, top]);
    const { g, bg, plot } = panel("e", top, bottom, false);
    bg.append("rect").attr("x", L).attr("y", top).attr("width", R - L).attr("height", y(0) - top).attr("fill", "#ffb5b5");
    bg.append("rect").attr("x", L).attr("y", y(0)).attr("width", R - L).attr("height", bottom - y(0)).attr("fill", "#b8dcfe");
    grid(bg, y, [-10, 10]);
    bg.append("line").attr("x1", L).attr("x2", R).attr("y1", y(0)).attr("y2", y(0)).attr("stroke", "#000").attr("stroke-width", 2.8);
    const l = d3.line<number>().x((d, i) => X(mT(2000, i))).y((d) => y(d));
    plot.append("path").attr("d", l(taC)).attr("fill", "none").attr("stroke", "#000").attr("stroke-width", 2.3);
    legendBox(g, 109, 1117, 114, 41);
    g.append("line").attr("x1", 117).attr("x2", 170).attr("y1", 1136).attr("y2", 1136).attr("stroke", "#000").attr("stroke-width", 2.3);
    legendText(g, 188, 1136, [{ t: "T" }, { t: "A", s: "sub", i: true, f: SANS }], 0.66);
    leftAxis(g, y, [-20, -10, 0, 10, 20], (d: number) => (d < 0 ? "\u2212" + Math.abs(d) : String(d)));
    bottomTicks(g, bottom, true);
    topTicks(g, top);
    frame(g, top, bottom);
    tag(g, bottom, "(e)");
    yTitle(g, 20, (top + bottom) / 2, [{ t: "T" }, { t: "A", s: "sub", i: true, f: SANS }, { t: " (\u00B0C)" }]);
  }
}

export default function App() {
  const ref = useRef<SVGSVGElement>(null);
  useEffect(() => {
    document.body.style.margin = "0";
    const svg = d3.select(ref.current);
    svg.selectAll("*").remove();
    draw(svg);
  }, []);
  return (
    <svg ref={ref} width={W} height={H} viewBox={`0 0 ${W} ${H}`}
      style={{ display: "block", background: "#fff", position: "absolute", left: 0, top: 0 }} />
  );
}
